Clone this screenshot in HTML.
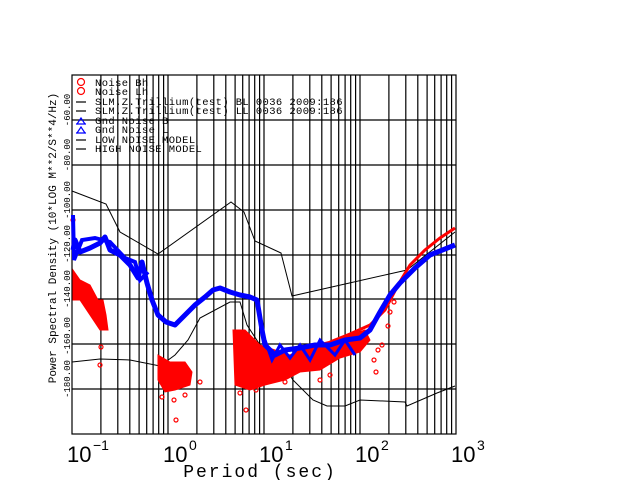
<!DOCTYPE html>
<html><head><style>
html,body{margin:0;padding:0;background:#fff;width:640px;height:480px;overflow:hidden}
svg{display:block}
text{font-family:"Liberation Mono",monospace}
</style></head><body>
<svg width="640" height="480" viewBox="0 0 640 480" xmlns="http://www.w3.org/2000/svg">
<g stroke="#000" stroke-width="1.2">
<rect x="72" y="75" width="384" height="359" fill="none"/>
<line x1="72" y1="120" x2="456" y2="120"/><line x1="72" y1="165" x2="456" y2="165"/>
<line x1="72" y1="210" x2="456" y2="210"/><line x1="72" y1="255" x2="456" y2="255"/>
<line x1="72" y1="299" x2="456" y2="299"/><line x1="72" y1="344" x2="456" y2="344"/>
<line x1="72" y1="389" x2="456" y2="389"/>
<path fill="none" d="M100.9,75V434M117.8,75V434M129.8,75V434M139.1,75V434M146.7,75V434M153.1,75V434M158.7,75V434M163.6,75V434
M168,75V434M196.9,75V434M213.8,75V434M225.8,75V434M235.1,75V434M242.7,75V434M249.1,75V434M254.7,75V434M259.6,75V434
M264,75V434M292.9,75V434M309.8,75V434M321.8,75V434M331.1,75V434M338.7,75V434M345.1,75V434M350.7,75V434M355.6,75V434
M360,75V434M388.9,75V434M405.8,75V434M417.8,75V434M427.1,75V434M434.7,75V434M441.1,75V434M446.7,75V434M451.6,75V434"/>
</g>
<g font-size="9" text-anchor="middle">
<text transform="translate(70,110) rotate(-90)">-60.00</text>
<text transform="translate(70,155) rotate(-90)">-80.00</text>
<text transform="translate(70,200) rotate(-90)">-100.00</text>
<text transform="translate(70,244) rotate(-90)">-120.00</text>
<text transform="translate(70,289) rotate(-90)">-140.00</text>
<text transform="translate(70,336) rotate(-90)">-160.00</text>
<text transform="translate(70,379) rotate(-90)">-180.00</text>
</g>
<text font-size="11" text-anchor="middle" transform="translate(56,238) rotate(-90)">Power Spectral Density (10*LOG M**2/S**4/Hz)</text>
<g font-size="22" style="font-family:'Liberation Sans',sans-serif">
<text x="67" y="462" style="font-family:'Liberation Sans',sans-serif">10</text><text x="93" y="450" font-size="14" style="font-family:'Liberation Sans',sans-serif">−1</text>
<text x="163" y="462" style="font-family:'Liberation Sans',sans-serif">10</text><text x="189" y="450" font-size="14" style="font-family:'Liberation Sans',sans-serif">0</text>
<text x="259" y="462" style="font-family:'Liberation Sans',sans-serif">10</text><text x="285" y="450" font-size="14" style="font-family:'Liberation Sans',sans-serif">1</text>
<text x="355" y="462" style="font-family:'Liberation Sans',sans-serif">10</text><text x="381" y="450" font-size="14" style="font-family:'Liberation Sans',sans-serif">2</text>
<text x="451" y="462" style="font-family:'Liberation Sans',sans-serif">10</text><text x="477" y="450" font-size="14" style="font-family:'Liberation Sans',sans-serif">3</text>
</g>
<text x="260" y="477" font-size="18" text-anchor="middle" letter-spacing="2">Period (sec)</text>
<polyline fill="none" stroke="#000" stroke-width="1" points="72,191 106,204 120,232 158,254 231,202 244,212 255,241 281,253 292,296 407,270 455,232"/>
<polyline fill="none" stroke="#000" stroke-width="1" points="72,362 100,359 130,360 160,366 175,355 188,340 200,318 230,302 240,302 247,325 260,345 280,360 293,380 313,400 327,406 345,406 360,400 405,402 407,406 437,393 455,386"/>
<g fill="#f00" stroke="#f00">
<polygon points="73,270 80,280 90,285 98,300 103,300 106,315 108,330 100,330 90,315 80,300 73,300"/>
<polygon points="158,355 170,362 185,362 192,372 190,385 175,390 165,392 158,380"/>
<polygon points="233,330 245,330 260,345 275,350 290,355 300,350 315,345 335,340 350,335 365,330 370,340 360,352 340,358 320,370 300,372 285,380 265,385 250,390 235,385"/>
<polyline fill="none" stroke-width="3" points="330,342 350,334 370,325 385,310 398,285 410,265 425,250 440,238 455,228"/>
</g>
<g fill="none" stroke="#f00" stroke-width="1.2">
<circle cx="162" cy="397" r="2"/><circle cx="174" cy="400" r="2"/><circle cx="176" cy="420" r="2"/><circle cx="200" cy="382" r="2"/><circle cx="185" cy="395" r="2"/>
<circle cx="240" cy="393" r="2"/><circle cx="246" cy="410" r="2"/><circle cx="256" cy="390" r="2"/><circle cx="285" cy="382" r="2"/>
<circle cx="320" cy="380" r="2"/><circle cx="330" cy="375" r="2"/><circle cx="374" cy="360" r="2"/><circle cx="378" cy="350" r="2"/>
<circle cx="376" cy="372" r="2"/><circle cx="388" cy="326" r="2"/><circle cx="390" cy="312" r="2"/><circle cx="394" cy="302" r="2"/><circle cx="382" cy="345" r="2"/>
<circle cx="73" cy="220" r="2"/><circle cx="100" cy="365" r="2"/><circle cx="101" cy="347" r="2"/>
</g>
<polyline fill="none" stroke="#00f" stroke-width="5" stroke-linejoin="round" points="73,250 75,240 80,252 90,248 100,243 105,237 110,250 120,255 130,265 138,278 142,262 147,283 152,300 158,315 166,322 175,325 185,315 195,305 205,297 213,290 220,288 230,292 240,295 250,297 257,300 262,330 265,345 275,355 285,350 300,348 315,345 330,345 345,340 360,338 370,330 380,312 390,295 400,283 415,268 430,255 455,245"/>
<polyline fill="none" stroke="#00f" stroke-width="4" points="73,215 74,260 82,240 95,238 110,242 125,258 135,262 140,280 148,272"/>
<polyline fill="none" stroke="#00f" stroke-width="3" points="265,340 272,360 280,345 290,358 300,345 310,360 320,340 335,355 345,340 355,355"/>
<g font-size="10.5" letter-spacing="0.4">
<text x="95" y="86">Noise Bh</text><text x="95" y="95">Noise Lh</text>
<text x="95" y="105">SLM.Z.Trillium(test) BL 0036 2009:186</text>
<text x="95" y="114">SLM.Z.Trillium(test) LL 0036 2009:186</text>
<text x="95" y="124">Gnd Noise B</text><text x="95" y="133">Gnd Noise L</text>
<text x="95" y="143">LOW NOISE MODEL</text><text x="95" y="152">HIGH NOISE MODEL</text>
</g>
<g fill="none" stroke-width="1.2">
<circle cx="81" cy="82" r="3.5" stroke="#f00"/><circle cx="81" cy="91" r="3.5" stroke="#f00"/>
<line x1="76" y1="102" x2="86" y2="102" stroke="#000"/><line x1="76" y1="111" x2="86" y2="111" stroke="#000"/>
<path d="M77,124 L81,118 L85,124 Z M76,124 L86,124" stroke="#00f"/>
<path d="M77,133 L81,127 L85,133 Z M76,133 L86,133" stroke="#00f"/>
<line x1="76" y1="140" x2="86" y2="140" stroke="#000"/><line x1="76" y1="149" x2="86" y2="149" stroke="#000"/>
</g>
</svg>
</body></html>
